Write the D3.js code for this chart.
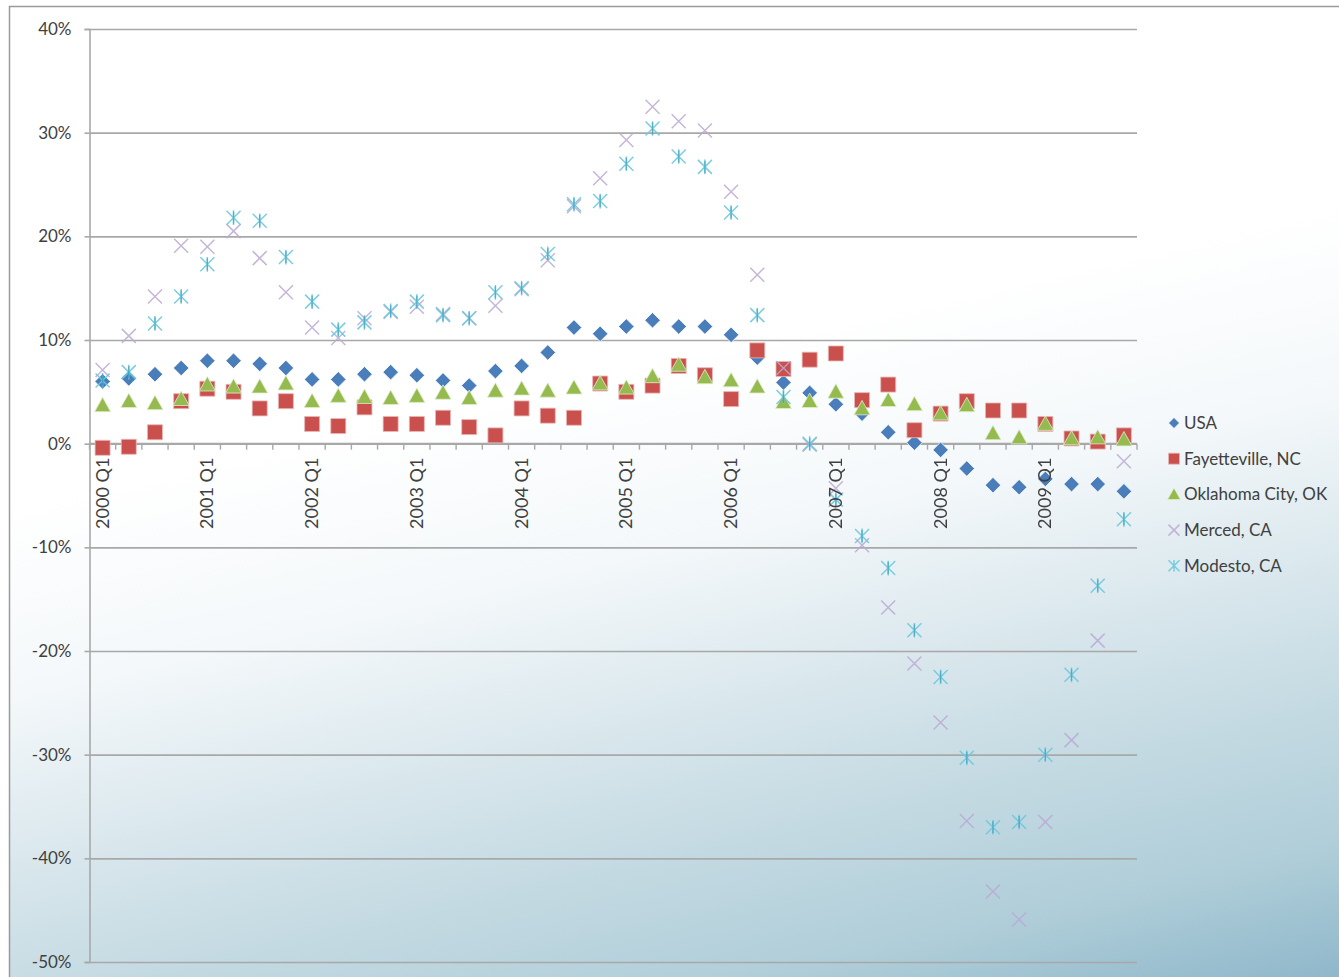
<!DOCTYPE html>
<html>
<head>
<meta charset="utf-8">
<script src="https://cdn.jsdelivr.net/npm/d3@7"></script>
<style>
  html, body { margin: 0; padding: 0; background: #fff; }
  svg { display: block; }
  text { font-family: Lato, "Open Sans", "Liberation Sans", sans-serif; fill: #404040; }
</style>
</head>
<body>
<svg id="chart" width="1339" height="977"></svg>
<script>
// Year-over-year house price change by quarter, 2000 Q1 – 2009 Q4
const years = d3.range(2000, 2010);
const quarters = years.flatMap(yr => [1, 2, 3, 4].map(q => `${yr} Q${q}`));

const usa = [6.0, 6.3, 6.7, 7.3, 8.0, 8.0, 7.7, 7.3, 6.2, 6.2, 6.7, 6.9, 6.6, 6.1, 5.6, 7.0,
  7.5, 8.8, 11.2, 10.6, 11.3, 11.9, 11.3, 11.3, 10.5, 8.3, 5.9, 4.9, 3.8, 2.9, 1.1, 0.1,
  -0.6, -2.4, -4.0, -4.2, -3.4, -3.9, -3.9, -4.6];
const fayetteville = [-0.4, -0.3, 1.1, 4.1, 5.3, 5.0, 3.4, 4.1, 1.9, 1.7, 3.5, 1.9, 1.9, 2.5, 1.6, 0.8,
  3.4, 2.7, 2.5, 5.8, 5.0, 5.6, 7.5, 6.6, 4.3, 9.0, 7.2, 8.1, 8.7, 4.2, 5.7, 1.3,
  2.9, 4.1, 3.2, 3.2, 1.9, 0.5, 0.2, 0.8];
const oklahomaCity = [3.7, 4.1, 3.9, 4.3, 5.7, 5.5, 5.5, 5.8, 4.1, 4.6, 4.5, 4.4, 4.6, 4.9, 4.4, 5.1,
  5.3, 5.1, 5.4, 5.8, 5.4, 6.5, 7.6, 6.4, 6.1, 5.5, 4.0, 4.1, 5.0, 3.4, 4.2, 3.8,
  2.9, 3.7, 1.0, 0.6, 1.9, 0.5, 0.6, 0.4];
const merced = [7.1, 10.4, 14.2, 19.1, 19.0, 20.5, 17.9, 14.6, 11.2, 10.2, 12.1, 12.7, 13.2, 12.5, 12.1, 13.3,
  14.9, 17.7, 22.9, 25.6, 29.3, 32.5, 31.1, 30.2, 24.3, 16.3, 7.3, -0.1, -4.3, -9.8, -15.8, -21.2,
  -26.9, -36.4, -43.2, -45.9, -36.5, -28.6, -19.0, -1.7];
const modesto = [6.1, 6.9, 11.6, 14.2, 17.3, 21.8, 21.5, 18.0, 13.7, 11.0, 11.7, 12.8, 13.7, 12.4, 12.1, 14.6,
  15.0, 18.3, 23.1, 23.4, 27.0, 30.4, 27.7, 26.7, 22.3, 12.4, 4.5, 0.0, -5.4, -8.9, -12.0, -18.0,
  -22.5, -30.3, -37.0, -36.5, -30.0, -22.3, -13.7, -7.3];

const seriesNames = ["USA", "Fayetteville, NC", "Oklahoma City, OK", "Merced, CA", "Modesto, CA"];
const yTickValues = [-50, -40, -30, -20, -10, 0, 10, 20, 30, 40];

// ---- marker shapes -------------------------------------------------------
const shapes = {
  diamond: s => `M0,${-s}L${s},0L0,${s}L${-s},0Z`,
  square: s => `M${-s},${-s}H${s}V${s}H${-s}Z`,
  triangle: s => `M0,${-s}L${s},${s * 0.8}L${-s},${s * 0.8}Z`,
  cross: s => `M${-s},${-s}L${s},${s}M${s},${-s}L${-s},${s}`,
  star: s => `M${-s},${-s}L${s},${s}M${s},${-s}L${-s},${s}M0,${-s * 1.05}V${s * 1.05}`
};

const series = [
  { name: seriesNames[0], values: usa, shape: "diamond", size: 7.8, fill: "#4a7ebb", stroke: "#ffffff", sw: 0.8, opacity: 1 },
  { name: seriesNames[1], values: fayetteville, shape: "square", size: 7.5, fill: "#c9504d", stroke: "#e8b8b6", sw: 0.8, opacity: 1 },
  { name: seriesNames[2], values: oklahomaCity, shape: "triangle", size: 8, fill: "#95bb4f", stroke: "#e2edd0", sw: 0.8, opacity: 1 },
  { name: seriesNames[3], values: merced, shape: "cross", size: 7, fill: "none", stroke: "#bba8d4", sw: 1.5, opacity: 0.85 },
  { name: seriesNames[4], values: modesto, shape: "star", size: 7, fill: "none", stroke: "#6cc8dd", sw: 1.5, opacity: 0.9 }
];

// ---- layout --------------------------------------------------------------
const svg = d3.select("#chart");
const W = 1339, H = 977;
const plot = { left: 89.5, right: 1137, top: 29, bottom: 962 };

const defs = svg.append("defs");
const grad = defs.append("linearGradient")
  .attr("id", "bg").attr("x1", "0.5").attr("y1", "0.35").attr("x2", "0.75").attr("y2", "1.15");
[[0, "#ffffff"], [0.22, "#f4f8fa"], [0.56, "#c6dbe3"], [0.74, "#b0ced9"], [0.92, "#8ab4c8"], [1, "#83aec3"]]
  .forEach(([o, c]) => grad.append("stop").attr("offset", o).attr("stop-color", c));

svg.append("rect").attr("width", W).attr("height", H).attr("fill", "#ffffff");
svg.append("rect")
  .attr("x", 9.5).attr("y", 6.5).attr("width", W + 10).attr("height", H + 10)
  .attr("fill", "url(#bg)").attr("stroke", "#9a9a9a").attr("stroke-width", 1.5);

const x = d3.scaleBand().domain(quarters).range([plot.left, plot.right]).padding(0);
const y = d3.scaleLinear().domain([-50, 40]).range([plot.bottom, plot.top]);
const cx = q => x(q) + x.bandwidth() / 2;

// gridlines
const grid = svg.append("g").attr("transform", `translate(${plot.left},0)`)
  .call(d3.axisLeft(y).tickValues(yTickValues).tickSize(-(plot.right - plot.left)).tickFormat(""));
grid.select(".domain").remove();
grid.selectAll("line").attr("stroke", "#a8a8a8").attr("stroke-width", 1.6);

// y axis
const yAxis = svg.append("g").attr("transform", `translate(${plot.left},0)`)
  .call(d3.axisLeft(y).tickValues(yTickValues).tickSize(5).tickPadding(13)
    .tickFormat(d => `${d}%`));
yAxis.select(".domain").attr("stroke", "#a8a8a8").attr("stroke-width", 1.6);
yAxis.selectAll("line").attr("stroke", "#a8a8a8").attr("stroke-width", 1.6);
yAxis.selectAll("text").attr("font-size", 17).attr("fill", "#404040")
  .style("font-family", "Lato, 'Open Sans', sans-serif");

// x axis line at 0% with tick marks on category boundaries
const y0 = y(0);
const xAxis = svg.append("g");
xAxis.append("line")
  .attr("x1", plot.left).attr("x2", plot.right).attr("y1", y0).attr("y2", y0)
  .attr("stroke", "#a8a8a8").attr("stroke-width", 1.6);
xAxis.selectAll("line.tick")
  .data(quarters.concat(["end"]))
  .join("line").attr("class", "tick")
  .attr("x1", d => d === "end" ? plot.right : x(d))
  .attr("x2", d => d === "end" ? plot.right : x(d))
  .attr("y1", y0).attr("y2", y0 + 6)
  .attr("stroke", "#a8a8a8").attr("stroke-width", 1.4);

// markers
const marks = svg.append("g");
series.forEach(s => {
  const g = marks.append("g").attr("opacity", s.opacity);
  g.selectAll("path")
    .data(quarters.map((q, i) => ({ q, v: s.values[i] })))
    .join("path")
    .attr("transform", d => `translate(${cx(d.q)},${y(d.v)})`)
    .attr("d", shapes[s.shape](s.size))
    .attr("fill", s.fill)
    .attr("stroke", s.stroke)
    .attr("stroke-width", s.sw);
  if (s.shape === "star") {
    g.selectAll("path.core")
      .data(quarters.map((q, i) => ({ q, v: s.values[i] })))
      .join("path").attr("class", "core")
      .attr("transform", d => `translate(${cx(d.q)},${y(d.v)})`)
      .attr("d", `M0,-6V6`)
      .attr("stroke", "#3fa6c2").attr("stroke-width", 1.3);
  }
});

// year labels on Q1 categories, rotated
svg.append("g").selectAll("text")
  .data(quarters.filter(q => q.endsWith("Q1")))
  .join("text")
  .attr("transform", d => `translate(${cx(d) + 6},${y0 + 14}) rotate(-90)`)
  .attr("text-anchor", "end")
  .attr("font-size", 18)
  .attr("fill", "#404040")
  .text(d => d);

// legend
const legend = svg.append("g").attr("transform", "translate(1174,423)");
series.forEach((s, i) => {
  const row = legend.append("g").attr("transform", `translate(0,${i * 35.7})`);
  row.append("path")
    .attr("d", shapes[s.shape](s.shape === "triangle" ? 6.5 : 5.5))
    .attr("fill", s.fill).attr("stroke", s.stroke).attr("stroke-width", s.sw)
    .attr("opacity", s.opacity);
  row.append("text").attr("x", 10).attr("dy", "0.35em")
    .attr("font-size", 17).attr("fill", "#404040").text(s.name);
});
</script>
</body>
</html>
